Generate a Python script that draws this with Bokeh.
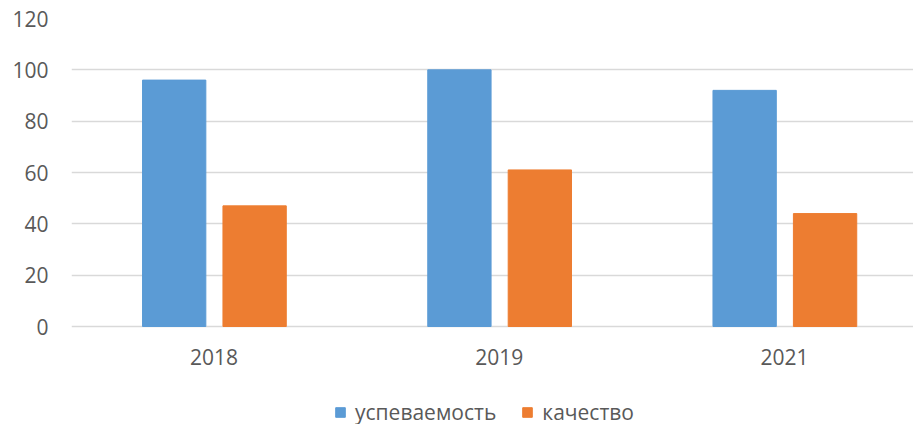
from bokeh.plotting import figure
from bokeh.models import ColumnDataSource, Range1d, FixedTicker, Legend, LegendItem
from bokeh.transform import dodge
from bokeh.core.properties import value
from bokeh.embed import file_html
from bokeh.resources import INLINE

years = ["2018", "2019", "2021"]
uspevaemost = [96, 100, 92]
kachestvo = [47, 61, 44]
y_ticks = [0, 20, 40, 60, 80, 100, 120]

FONT = "Open Sans"
TXT = "#595959"
BLUE = "#5B9BD5"
ORANGE = "#ED7D31"
LABEL_Y = -11.9   # vertical spot of the category labels, in axis units

xc = [i + 0.5 for i in range(len(years))]
src = ColumnDataSource(dict(x=xc, u=uspevaemost, k=kachestvo,
                            lab=years, ly=[LABEL_Y] * len(years)))

p = figure(frame_width=842, frame_height=406, output_backend="svg", toolbar_location=None,
           x_range=Range1d(0, 2.952), y_range=Range1d(-38.18, 120),
           x_axis_location=None,
           min_border_left=71, min_border_right=0, min_border_top=18,
           min_border_bottom=0)
p.outline_line_color = None
p.background_fill_color = "white"
p.border_fill_color = "white"

r1 = p.vbar(x=dodge("x", -0.14), top="u", width=0.222, source=src,
            fill_color=BLUE, line_color=BLUE)
r2 = p.vbar(x=dodge("x", 0.142), top="k", width=0.222, source=src,
            fill_color=ORANGE, line_color=ORANGE)

# category labels
p.text(x="x", y="ly", text="lab", source=src, text_align="center",
       text_baseline="middle", text_font=value(FONT), text_font_size="21px",
       text_color=TXT)

p.yaxis.ticker = FixedTicker(ticks=y_ticks)
p.yaxis.axis_line_color = None
p.yaxis.major_tick_line_color = None
p.yaxis.minor_tick_line_color = None
p.yaxis.major_label_standoff = 17
p.yaxis.major_label_text_font = FONT
p.yaxis.major_label_text_font_size = "21px"
p.yaxis.major_label_text_color = TXT

p.xgrid.grid_line_color = None
p.ygrid.ticker = FixedTicker(ticks=y_ticks)
p.ygrid.grid_line_color = "#d9d9d9"
p.ygrid.grid_line_width = 1.5

legend = Legend(items=[LegendItem(label="успеваемость", renderers=[r1]),
                       LegendItem(label="качество", renderers=[r2])],
                orientation="horizontal", location=(263, -2))
legend.border_line_color = None
legend.background_fill_alpha = 0
legend.label_text_font = FONT
legend.label_text_font_size = "21px"
legend.label_text_color = TXT
legend.glyph_width = 12
legend.glyph_height = 12
legend.label_standoff = 9
legend.spacing = 25
legend.padding = 0
legend.margin = 0
p.add_layout(legend, "center")

open("out.html", "w").write(file_html(p, INLINE))
